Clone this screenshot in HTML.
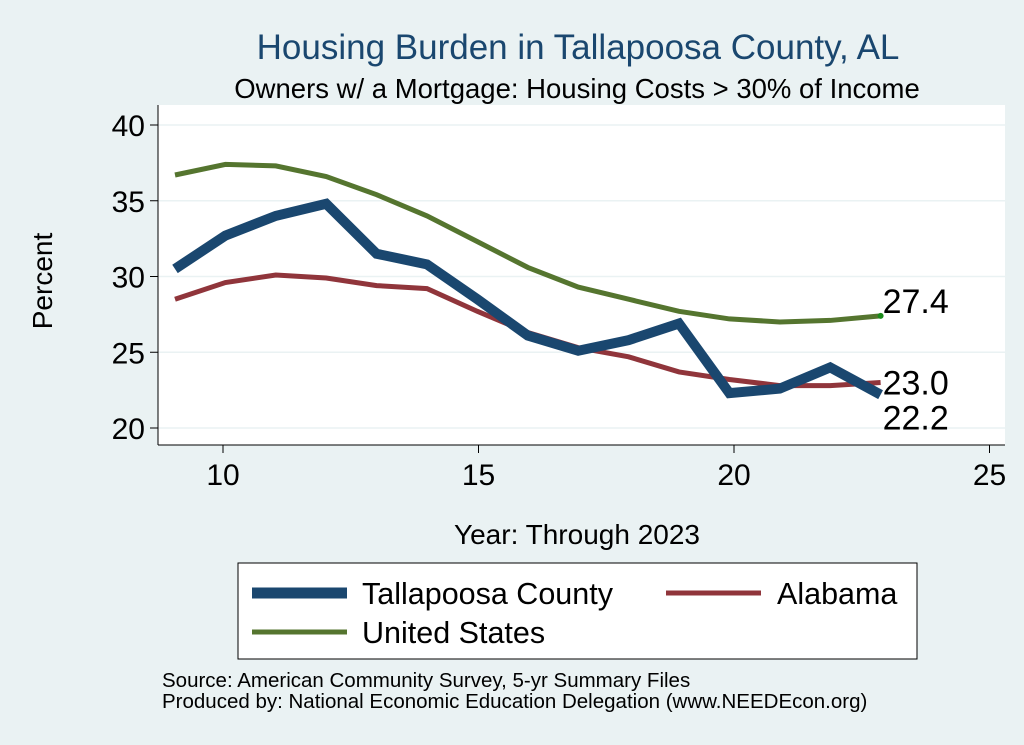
<!DOCTYPE html>
<html><head><meta charset="utf-8"><style>
body{margin:0;background:#eaf2f3;}
svg{display:block;font-family:"Liberation Sans",Arial,sans-serif;}
</style></head><body>
<svg width="1024" height="745">
<rect x="0" y="0" width="1024" height="745" fill="#eaf2f3"/>
<text x="578" y="59" font-size="35" fill="#1a476f" text-anchor="middle">Housing Burden in Tallapoosa County, AL</text>
<text x="577" y="98" font-size="27.5" fill="#000" text-anchor="middle">Owners w/ a Mortgage: Housing Costs &gt; 30% of Income</text>
<rect x="158" y="105" width="847" height="340" fill="#fff"/>
<g id="grid"></g><g id="axes"></g><g id="series"></g>
<text x="52" y="281" font-size="28" text-anchor="middle" transform="rotate(-90 52 281)">Percent</text>
<text x="577" y="544" font-size="28" text-anchor="middle">Year: Through 2023</text>
<g>
<rect x="238" y="563" width="679" height="96" fill="#fff" stroke="#000" stroke-width="1"/>
<line x1="252" y1="593" x2="347" y2="593" stroke="#1a476f" stroke-width="11"/>
<text x="362" y="604" font-size="30.5">Tallapoosa County</text>
<line x1="666" y1="593" x2="761" y2="593" stroke="#90353b" stroke-width="5"/>
<text x="777" y="604" font-size="30.5">Alabama</text>
<line x1="252" y1="632" x2="347" y2="632" stroke="#55752f" stroke-width="5"/>
<text x="362" y="643" font-size="30.5">United States</text>
</g>
<text x="162" y="687" font-size="20.5">Source: American Community Survey, 5-yr Summary Files</text>
<text x="162" y="708" font-size="20.5">Produced by: National Economic Education Delegation (www.NEEDEcon.org)</text>
</svg>
<script>
const years=[9,10,11,12,13,14,15,16,17,18,19,20,21,22,23];
const tallapoosa=[30.5,32.7,34.0,34.8,31.5,30.8,28.5,26.1,25.1,25.8,26.9,22.3,22.6,24.0,22.2];
const alabama=[28.5,29.6,30.1,29.9,29.4,29.2,27.7,26.3,25.3,24.7,23.7,23.2,22.8,22.8,23.0];
const us=[36.7,37.4,37.3,36.6,35.4,34.0,32.3,30.6,29.3,28.5,27.7,27.2,27.0,27.1,27.4];
const xTicks=[10,15,20,25];
const yTicks=[20,25,30,35,40];
const NS="http://www.w3.org/2000/svg";
const X=v=>223+(v-10)*51.1;
const PX=v=>175+(v-9)*50.4;
const Y=v=>428-(v-20)*15.15;
function mk(t,a,p){const e=document.createElementNS(NS,t);for(const k in a)e.setAttribute(k,a[k]);p.appendChild(e);return e;}
const grid=document.getElementById('grid'),axes=document.getElementById('axes'),ser=document.getElementById('series');
yTicks.forEach(v=>{
 const g=mk('line',{x1:158,x2:1005,y1:Y(v),y2:Y(v),stroke:'#eaf2f3','stroke-width':1.5},grid);
 
 
 const t=mk('line',{x1:150,x2:158,y1:Y(v),y2:Y(v),stroke:'#000'},axes);
 
 
 const l=mk('text',{x:145,y:Y(v)+11,'font-size':30,'text-anchor':'end'},axes);l.textContent=v;
 
 
});
xTicks.forEach(v=>{
 const t=mk('line',{x1:X(v),x2:X(v),y1:445,y2:453,stroke:'#000'},axes);
 
 
 const l=mk('text',{x:X(v),y:485,'font-size':30,'text-anchor':'middle'},axes);l.textContent=v;
 
 
});
const ax1=mk('line',{x1:158,x2:158,y1:105,y2:445,stroke:'#000'},axes);


const ax2=mk('line',{x1:158,x2:1005,y1:445,y2:445,stroke:'#000'},axes);


function line(vals,color,w,name){
 const d=vals.map((v,i)=>(i?'L':'M')+PX(years[i])+','+Y(v)).join('');
 const p=mk('path',{d:d,fill:'none',stroke:color,'stroke-width':w,'stroke-linejoin':'miter'},ser);
 
 
}
line(us,'#55752f',5,'line-united-states');
line(alabama,'#90353b',5,'line-alabama');
line(tallapoosa,'#1a476f',10,'line-tallapoosa');
const n=years.length-1,lx=PX(years[n]);
const dot=mk('circle',{cx:lx,cy:Y(us[n]),r:3,fill:'#1a8a1a'},ser);


[[us[n],Y(us[n])-3,'label-us-end'],[alabama[n],Y(alabama[n])+12,'label-alabama-end'],[tallapoosa[n],Y(tallapoosa[n])+35,'label-tallapoosa-end']].forEach(a=>{
 const t=mk('text',{x:lx+2,y:a[1],'font-size':34},ser);t.textContent=a[0].toFixed(1);
 
 
});
</script>
</body></html>
